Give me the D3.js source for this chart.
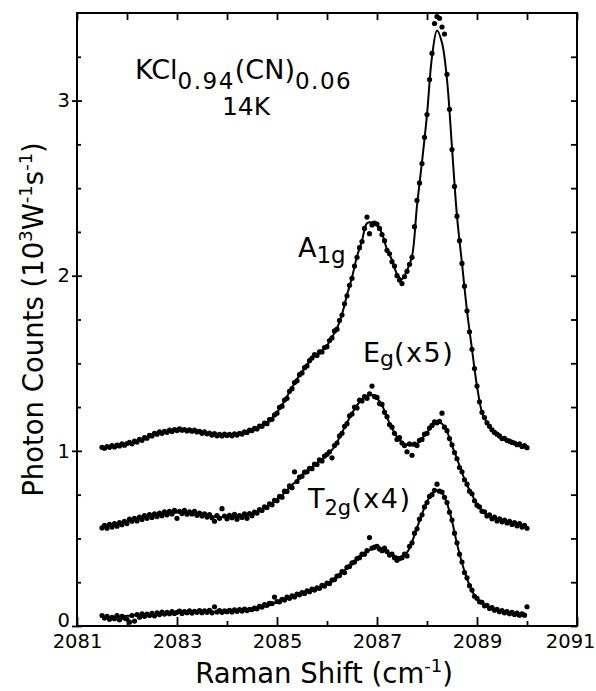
<!DOCTYPE html>
<html>
<head>
<meta charset="utf-8">
<script src="https://cdn.jsdelivr.net/npm/d3@7"></script>
<style>
  body { margin: 0; background: #fff; }
  svg text { font-family: "DejaVu Sans", "Liberation Sans", sans-serif; fill: #000; }
</style>
</head>
<body>
<script>
// Raman shift sampling (cm^-1): measured points every 0.05, fitted curves every 0.1
const shiftStart = 2081.5
const pointStep = 0.05
const fitStep = 0.1

// measured points, photon counts (10^3 W^-1 s^-1)
const a1gPoints = [
    1.02, 1.015, 1.025, 1.02, 1.03, 1.022, 1.033, 1.028, 1.04, 1.032,
    1.042, 1.048, 1.04, 1.055, 1.05, 1.065, 1.06, 1.075, 1.072, 1.088,
    1.085, 1.1, 1.095, 1.108, 1.1, 1.112, 1.106, 1.118, 1.11, 1.122,
    1.116, 1.125, 1.118, 1.122, 1.114, 1.12, 1.112, 1.118, 1.108, 1.112,
    1.10, 1.108, 1.097, 1.102, 1.09, 1.098, 1.086, 1.094, 1.085, 1.095,
    1.088, 1.094, 1.086, 1.097, 1.09, 1.1, 1.096, 1.108, 1.105, 1.118,
    1.116, 1.128, 1.125, 1.142, 1.14, 1.158, 1.155, 1.178, 1.18, 1.205,
    1.215, 1.248, 1.255, 1.29, 1.30, 1.34, 1.355, 1.39, 1.40, 1.435,
    1.445, 1.475, 1.485, 1.515, 1.53, 1.55, 1.545, 1.565, 1.565, 1.59,
    1.595, 1.63, 1.645, 1.685, 1.695, 1.745, 1.775, 1.84, 1.885, 1.945,
    1.985, 2.055, 2.105, 2.16, 2.195, 2.27, 2.335, 2.24, 2.29, 2.30,
    2.295, 2.27, 2.235, 2.20, 2.145, 2.125, 2.08, 2.055, 2.0, 1.975,
    1.955, 1.995, 2.025, 2.065, 2.105, 2.28, 2.43, 2.53, 2.64, 2.79,
    2.92, 3.12, 3.27, 3.44, 3.48, 3.47, 3.42, 3.38, 3.15, 2.95,
    2.72, 2.51, 2.34, 2.20, 2.07, 1.94, 1.80, 1.68, 1.58, 1.47,
    1.37, 1.28, 1.22, 1.19, 1.16, 1.14, 1.12, 1.105, 1.095, 1.085,
    1.07, 1.072, 1.06, 1.055, 1.048, 1.045, 1.035, 1.04, 1.025, 1.03, 1.018
]
const egPoints = [
    0.56, 0.575, 0.558, 0.58, 0.565, 0.585, 0.57, 0.59, 0.578, 0.598,
    0.585, 0.61, 0.598, 0.615, 0.6, 0.622, 0.608, 0.63, 0.615, 0.636,
    0.62, 0.64, 0.625, 0.645, 0.63, 0.652, 0.635, 0.655, 0.64, 0.66,
    0.615, 0.655, 0.642, 0.66, 0.638, 0.652, 0.64, 0.655, 0.632, 0.645,
    0.628, 0.64, 0.622, 0.636, 0.618, 0.598, 0.63, 0.615, 0.67, 0.628,
    0.612, 0.632, 0.618, 0.638, 0.61, 0.63, 0.62, 0.64, 0.615, 0.642,
    0.63, 0.65, 0.645, 0.665, 0.66, 0.68, 0.676, 0.698, 0.692, 0.718,
    0.715, 0.74, 0.735, 0.77, 0.768, 0.80, 0.79, 0.88, 0.825, 0.85,
    0.855, 0.878, 0.88, 0.90, 0.898, 0.925, 0.922, 0.948, 0.942, 0.97,
    0.98, 0.995, 0.96, 1.03, 1.045, 1.085, 1.10, 1.14, 1.155, 1.20,
    1.21, 1.25, 1.245, 1.29, 1.285, 1.31, 1.30, 1.325, 1.37, 1.31,
    1.305, 1.27, 1.265, 1.22, 1.195, 1.15, 1.135, 1.10, 1.065, 1.075,
    1.045, 1.03, 0.995, 1.04, 0.975, 1.038, 1.03, 1.06, 1.065, 1.095,
    1.10, 1.13, 1.145, 1.165, 1.16, 1.168, 1.215, 1.135, 1.115, 1.07,
    1.035, 0.99, 0.955, 0.905, 0.88, 0.835, 0.81, 0.77, 0.755, 0.715,
    0.69, 0.68, 0.655, 0.652, 0.628, 0.635, 0.612, 0.622, 0.6, 0.612,
    0.595, 0.605, 0.588, 0.598, 0.58, 0.59, 0.572, 0.585, 0.565, 0.575, 0.558
]
const t2gPoints = [
    0.06, 0.045, 0.055, 0.038, 0.05, 0.042, 0.06, 0.035, 0.055, 0.045,
    0.04, 0.022, 0.06, 0.028, 0.065, 0.05, 0.07, 0.055, 0.068, 0.06,
    0.072, 0.058, 0.075, 0.065, 0.08, 0.068, 0.078, 0.07, 0.082, 0.072,
    0.078, 0.085, 0.072, 0.082, 0.076, 0.086, 0.074, 0.084, 0.078, 0.088,
    0.076, 0.086, 0.078, 0.09, 0.075, 0.11, 0.08, 0.088, 0.078, 0.086,
    0.082, 0.09, 0.08, 0.092, 0.084, 0.094, 0.085, 0.096, 0.088, 0.095,
    0.094, 0.102, 0.098, 0.112, 0.108, 0.122, 0.118, 0.13, 0.128, 0.165,
    0.14, 0.138, 0.152, 0.148, 0.165, 0.158, 0.172, 0.166, 0.182, 0.178,
    0.19, 0.186, 0.2, 0.196, 0.21, 0.205, 0.218, 0.215, 0.232, 0.228,
    0.245, 0.242, 0.262, 0.265, 0.285, 0.288, 0.31, 0.305, 0.335, 0.34,
    0.36, 0.365, 0.385, 0.39, 0.41, 0.41, 0.43, 0.505, 0.445, 0.45,
    0.455, 0.44, 0.43, 0.445, 0.425, 0.405, 0.41, 0.39, 0.375, 0.385,
    0.39, 0.41, 0.4, 0.455, 0.475, 0.53, 0.555, 0.61, 0.635, 0.68,
    0.705, 0.74, 0.75, 0.775, 0.81, 0.77, 0.765, 0.735, 0.705, 0.65,
    0.605, 0.53, 0.475, 0.41, 0.365, 0.305, 0.275, 0.23, 0.205, 0.17,
    0.158, 0.138, 0.135, 0.115, 0.118, 0.1, 0.105, 0.09, 0.095, 0.082,
    0.088, 0.075, 0.082, 0.07, 0.078, 0.066, 0.074, 0.062, 0.07, 0.062, 0.11
]

// fitted curves
const a1gFit = [
    1.02, 1.022, 1.025, 1.03, 1.035,
    1.04, 1.045, 1.055, 1.065, 1.075, 1.09, 1.10, 1.105, 1.11, 1.115,
    1.12, 1.12, 1.12, 1.115, 1.11, 1.105, 1.10, 1.095, 1.09, 1.09,
    1.09, 1.09, 1.095, 1.10, 1.11, 1.12, 1.13, 1.145, 1.16, 1.185,
    1.22, 1.26, 1.31, 1.36, 1.41, 1.45, 1.49, 1.53, 1.55, 1.57,
    1.60, 1.65, 1.70, 1.78, 1.89, 1.99, 2.11, 2.20, 2.30, 2.305,
    2.29, 2.24, 2.15, 2.09, 2.01, 1.98, 2.03, 2.11, 2.40, 2.65,
    2.92, 3.25, 3.40, 3.33, 3.12, 2.73, 2.34, 2.07, 1.80, 1.58,
    1.37, 1.22, 1.16, 1.12, 1.09, 1.07, 1.06, 1.045, 1.035, 1.025,
    1.015
]
const egFit = [
    0.565, 0.568, 0.572, 0.577, 0.585,
    0.595, 0.603, 0.61, 0.617, 0.623, 0.628, 0.633, 0.637, 0.641, 0.645,
    0.648, 0.648, 0.646, 0.643, 0.638, 0.634, 0.630, 0.626, 0.624, 0.622,
    0.622, 0.622, 0.623, 0.626, 0.630, 0.638, 0.65, 0.665, 0.683, 0.70,
    0.72, 0.745, 0.775, 0.805, 0.83, 0.86, 0.885, 0.905, 0.93, 0.95,
    0.975, 1.005, 1.05, 1.105, 1.16, 1.215, 1.26, 1.295, 1.315, 1.32,
    1.30, 1.26, 1.19, 1.13, 1.08, 1.05, 1.035, 1.03, 1.04, 1.07,
    1.105, 1.14, 1.16, 1.155, 1.11, 1.03, 0.955, 0.875, 0.805, 0.75,
    0.695, 0.66, 0.635, 0.62, 0.61, 0.60, 0.592, 0.585, 0.578, 0.572,
    0.565
]
const t2gFit = [
    0.05, 0.05, 0.052, 0.054, 0.056,
    0.058, 0.06, 0.062, 0.064, 0.066, 0.068, 0.07, 0.072, 0.073, 0.075,
    0.076, 0.077, 0.078, 0.079, 0.08, 0.08, 0.081, 0.081, 0.082, 0.083,
    0.084, 0.085, 0.087, 0.089, 0.092, 0.096, 0.10, 0.107, 0.115, 0.125,
    0.135, 0.147, 0.158, 0.168, 0.178, 0.188, 0.197, 0.206, 0.215, 0.228,
    0.24, 0.26, 0.28, 0.305, 0.33, 0.355, 0.38, 0.405, 0.425, 0.44,
    0.445, 0.438, 0.42, 0.405, 0.395, 0.395, 0.42, 0.48, 0.56, 0.64,
    0.71, 0.755, 0.775, 0.76, 0.70, 0.60, 0.47, 0.36, 0.27, 0.2,
    0.155, 0.13, 0.113, 0.10, 0.09, 0.082, 0.076, 0.071, 0.068, 0.065,
    0.063
]

const xTicks = [2081, 2083, 2085, 2087, 2089, 2091]
const xMinorTicks = [2082, 2084, 2086, 2088, 2090]
const yTicks = [0, 1, 2, 3]
const yMinorTicks = [0.25, 0.5, 0.75, 1.25, 1.5, 1.75, 2.25, 2.5, 2.75, 3.25]

const width = 596, height = 691
const margin = {top: 13, right: 19, bottom: 65, left: 77}

const x = d3.scaleLinear().domain([2081, 2091]).range([margin.left, width - margin.right])
const y = d3.scaleLinear().domain([0, 3.5]).range([height - margin.bottom, margin.top])

const svg = d3.select("body").append("svg")
    .attr("width", width)
    .attr("height", height)

function toPoints(values, step) {
    return values.map((v, i) => [shiftStart + i * step, v])
}

const line = d3.line()
    .x(d => x(d[0]))
    .y(d => y(d[1]))
    .curve(d3.curveCatmullRom.alpha(0.5))

const series = [
    {points: a1gPoints, fit: a1gFit},
    {points: egPoints, fit: egFit},
    {points: t2gPoints, fit: t2gFit}
]

series.forEach(s => {
    svg.append("path")
        .attr("d", line(toPoints(s.fit, fitStep)))
        .attr("fill", "none")
        .attr("stroke", "#000")
        .attr("stroke-width", 2)

    svg.append("g")
        .selectAll("circle")
        .data(toPoints(s.points, pointStep))
        .join("circle")
        .attr("cx", d => x(d[0]))
        .attr("cy", d => y(d[1]))
        .attr("r", 2.6)
        .attr("fill", "#000")
})

// frame
const x0 = x.range()[0], x1 = x.range()[1], y0 = y.range()[0], y1 = y.range()[1]
svg.append("rect")
    .attr("x", x0).attr("y", y1)
    .attr("width", x1 - x0).attr("height", y0 - y1)
    .attr("fill", "none").attr("stroke", "#000").attr("stroke-width", 2)

function styleAxis(g) {
    g.select(".domain").remove()
    g.selectAll(".tick line").attr("stroke-width", 1.8)
    g.selectAll(".tick text").attr("font-size", 19.5).attr("fill", "#000")
        .attr("font-family", "DejaVu Sans, sans-serif")
}

// bottom
svg.append("g").attr("transform", `translate(0,${y0})`)
    .call(d3.axisBottom(x).tickValues(xTicks).tickFormat(d3.format("d"))
        .tickSize(-9).tickSizeOuter(0).tickPadding(8))
    .call(styleAxis)
    // last label sits at the window edge, as in the original
    .call(g => g.selectAll(".tick text").filter(d => d === 2091)
        .attr("text-anchor", "end").attr("x", width - x1 - 1))
svg.append("g").attr("transform", `translate(0,${y0})`)
    .call(d3.axisBottom(x).tickValues(xMinorTicks).tickFormat("").tickSize(-5).tickSizeOuter(0))
    .call(styleAxis)
// top
svg.append("g").attr("transform", `translate(0,${y1})`)
    .call(d3.axisTop(x).tickValues(xTicks.concat(xMinorTicks)).tickFormat("").tickSize(-7).tickSizeOuter(0))
    .call(styleAxis)
// left
svg.append("g").attr("transform", `translate(${x0},0)`)
    .call(d3.axisLeft(y).tickValues(yTicks).tickFormat(d3.format("d"))
        .tickSize(5).tickSizeOuter(0).tickPadding(2))
    .call(styleAxis)
    .call(g => g.selectAll(".tick line").attr("x1", 5))
    .call(g => g.selectAll(".tick text").filter(d => d === 0).attr("y", -6))
svg.append("g").attr("transform", `translate(${x0},0)`)
    .call(d3.axisLeft(y).tickValues(yMinorTicks).tickFormat("").tickSize(-4).tickSizeOuter(0))
    .call(styleAxis)
// right
svg.append("g").attr("transform", `translate(${x1},0)`)
    .call(d3.axisRight(y).tickValues(yTicks.concat(yMinorTicks)).tickFormat("").tickSize(-6).tickSizeOuter(0))
    .call(styleAxis)

// axis titles
const xTitle = svg.append("text")
    .attr("x", (x0 + x1) / 2 - 3).attr("y", 683)
    .attr("text-anchor", "middle").attr("font-size", 27.5)
xTitle.append("tspan").text("Raman Shift (cm")
xTitle.append("tspan").attr("font-size", 18).attr("dy", -11).text("-1")
xTitle.append("tspan").attr("dy", 11).text(")")

const yTitle = svg.append("text")
    .attr("transform", `translate(43,${(y0 + y1) / 2}) rotate(-90)`)
    .attr("text-anchor", "middle").attr("font-size", 27.5)
yTitle.append("tspan").text("Photon Counts (10")
yTitle.append("tspan").attr("font-size", 18).attr("dy", -11).text("3")
yTitle.append("tspan").attr("dy", 11).text("W")
yTitle.append("tspan").attr("font-size", 18).attr("dy", -11).text("-1")
yTitle.append("tspan").attr("dy", 11).text("s")
yTitle.append("tspan").attr("font-size", 18).attr("dy", -11).text("-1")
yTitle.append("tspan").attr("dy", 11).text(")")

// sample annotation
const sample = svg.append("text")
    .attr("x", x(2082.16)).attr("y", y(3.126))
    .attr("font-size", 27)
sample.append("tspan").text("KCl")
sample.append("tspan").attr("font-size", 23).attr("dy", 10.5).attr("letter-spacing", 1.5).text("0.94")
sample.append("tspan").attr("dy", -10.5).text("(CN)")
sample.append("tspan").attr("font-size", 23).attr("dy", 10.5).attr("letter-spacing", 1.5).text("0.06")

svg.append("text")
    .attr("x", x(2084.38)).attr("y", y(2.915))
    .attr("text-anchor", "middle").attr("font-size", 25)
    .text("14K")

// series labels
const a1gLabel = svg.append("text")
    .attr("x", x(2085.42)).attr("y", y(2.105)).attr("font-size", 27)
a1gLabel.append("tspan").text("A")
a1gLabel.append("tspan").attr("font-size", 23).attr("dy", 6).text("1g")

const egLabel = svg.append("text")
    .attr("x", x(2086.72)).attr("y", y(1.506)).attr("font-size", 27)
egLabel.append("tspan").text("E")
egLabel.append("tspan").attr("font-size", 22).attr("dy", 4).text("g")
egLabel.append("tspan").attr("dy", -4).attr("letter-spacing", 1.5).text("(x5)")

const t2gLabel = svg.append("text")
    .attr("x", x(2085.62)).attr("y", y(0.673)).attr("font-size", 27)
t2gLabel.append("tspan").text("T")
t2gLabel.append("tspan").attr("font-size", 21).attr("dy", 7).text("2g")
t2gLabel.append("tspan").attr("dy", -7).attr("letter-spacing", 1.5).text("(x4)")
</script>
</body>
</html>
